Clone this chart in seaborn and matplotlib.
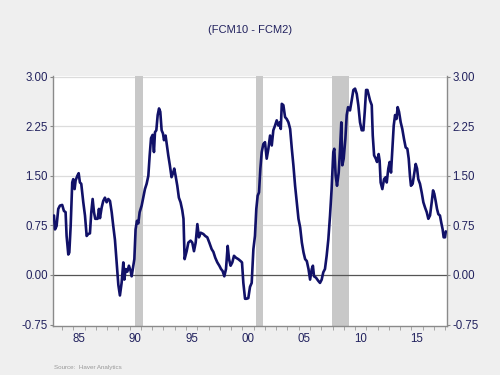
import pandas as pd
import seaborn as sns
import matplotlib.pyplot as plt

# 10y minus 2y treasury spread (decimal years)
years = [1983.29, 1983.38, 1983.52, 1983.67, 1983.82, 1984.02, 1984.17, 1984.32, 1984.41, 1984.56,
         1984.65, 1984.77, 1984.91, 1985.00, 1985.12, 1985.21, 1985.36, 1985.48, 1985.59, 1985.71,
         1985.89, 1986.04, 1986.19, 1986.33, 1986.48, 1986.60, 1986.72, 1986.84, 1986.95, 1987.16,
         1987.28, 1987.37, 1987.52, 1987.66, 1987.81, 1987.96, 1988.11, 1988.26, 1988.41, 1988.55,
         1988.70, 1988.85, 1989.00, 1989.14, 1989.29, 1989.44, 1989.53, 1989.65, 1989.80, 1989.94,
         1990.09, 1990.18, 1990.30, 1990.42, 1990.53, 1990.65, 1990.77, 1990.89, 1991.07, 1991.21,
         1991.36, 1991.51, 1991.66, 1991.78, 1991.90, 1992.04, 1992.16, 1992.25, 1992.37, 1992.49,
         1992.61, 1992.72, 1992.84, 1992.96, 1993.05, 1993.19, 1993.31, 1993.43, 1993.57, 1993.72,
         1993.87, 1993.96, 1994.08, 1994.23, 1994.37, 1994.52, 1994.67, 1994.78, 1994.88, 1995.06,
         1995.21, 1995.41, 1995.56, 1995.71, 1995.86, 1996.01, 1996.15, 1996.30, 1996.54, 1996.71,
         1996.89, 1997.07, 1997.28, 1997.43, 1997.60, 1997.78, 1997.96, 1998.11, 1998.25, 1998.40,
         1998.55, 1998.70, 1998.82, 1998.96, 1999.11, 1999.26, 1999.44, 1999.64, 1999.85, 1999.97,
         2000.09, 2000.24, 2000.38, 2000.53, 2000.68, 2000.83, 2000.98, 2001.12, 2001.24, 2001.36,
         2001.48, 2001.60, 2001.72, 2001.86, 2002.01, 2002.16, 2002.31, 2002.46, 2002.61, 2002.75,
         2002.90, 2003.05, 2003.20, 2003.32, 2003.41, 2003.50, 2003.64, 2003.79, 2003.94, 2004.09,
         2004.24, 2004.39, 2004.53, 2004.68, 2004.83, 2004.98, 2005.13, 2005.28, 2005.43, 2005.57,
         2005.72, 2005.87, 2006.01, 2006.16, 2006.26, 2006.36, 2006.53, 2006.74, 2006.89, 2007.04,
         2007.18, 2007.33, 2007.48, 2007.63, 2007.78, 2007.92, 2008.07, 2008.16, 2008.28, 2008.40,
         2008.55, 2008.67, 2008.78, 2008.87, 2008.99, 2009.14, 2009.26, 2009.38, 2009.55, 2009.70,
         2009.85, 2010.00, 2010.15, 2010.29, 2010.44, 2010.59, 2010.74, 2010.86, 2010.98, 2011.10,
         2011.22, 2011.33, 2011.48, 2011.57, 2011.69, 2011.84, 2011.95, 2012.09, 2012.18, 2012.27,
         2012.42, 2012.57, 2012.72, 2012.81, 2012.95, 2013.07, 2013.19, 2013.31, 2013.43, 2013.55,
         2013.67, 2013.78, 2013.90, 2014.05, 2014.19, 2014.34, 2014.49, 2014.64, 2014.76, 2014.87,
         2014.96, 2015.11, 2015.26, 2015.38, 2015.50, 2015.61, 2015.76, 2015.91, 2016.06, 2016.21,
         2016.36, 2016.50, 2016.65, 2016.80, 2016.92, 2017.03, 2017.15, 2017.27, 2017.39, 2017.53,
         2017.65, 2017.77, 2017.86, 2017.98, 2018.05]
spread = [0.90, 0.69, 0.74, 1.00, 1.05, 1.06, 0.97, 0.95, 0.59, 0.31,
          0.34, 0.74, 1.40, 1.45, 1.30, 1.43, 1.50, 1.54, 1.40, 1.38,
          1.10, 0.90, 0.59, 0.62, 0.63, 0.95, 1.15, 0.95, 0.85, 0.85,
          1.00, 0.86, 1.02, 1.12, 1.17, 1.10, 1.15, 1.12, 0.95, 0.74,
          0.53, 0.18, -0.15, -0.31, -0.12, 0.19, -0.07, 0.09, 0.05, 0.14,
          0.06, -0.02, 0.11, 0.24, 0.69, 0.82, 0.78, 0.95, 1.05, 1.17,
          1.30, 1.38, 1.50, 1.81, 2.07, 2.12, 1.86, 2.16, 2.19, 2.42,
          2.52, 2.47, 2.19, 2.14, 2.04, 2.11, 1.96, 1.81, 1.66, 1.48,
          1.55, 1.61, 1.50, 1.35, 1.17, 1.10, 0.98, 0.85, 0.24, 0.36,
          0.49, 0.52, 0.49, 0.36, 0.49, 0.77, 0.57, 0.64, 0.62, 0.59,
          0.57, 0.49, 0.39, 0.35, 0.26, 0.19, 0.14, 0.09, 0.06, -0.02,
          0.09, 0.44, 0.24, 0.14, 0.19, 0.29, 0.26, 0.24, 0.21, 0.19,
          -0.12, -0.36, -0.36, -0.35, -0.18, -0.12, 0.39, 0.59, 1.00, 1.20,
          1.25, 1.61, 1.86, 1.98, 2.01, 1.76, 1.91, 2.11, 1.96, 2.19,
          2.26, 2.34, 2.26, 2.31, 2.21, 2.59, 2.57, 2.39, 2.36, 2.31,
          2.21, 1.91, 1.66, 1.35, 1.10, 0.85, 0.72, 0.49, 0.34, 0.24,
          0.21, 0.09, -0.07, 0.09, 0.14, -0.02, -0.04, -0.09, -0.12, -0.07,
          0.04, 0.09, 0.29, 0.54, 0.90, 1.30, 1.86, 1.91, 1.50, 1.35,
          1.55, 1.91, 2.31, 1.66, 1.76, 2.06, 2.42, 2.54, 2.49, 2.64,
          2.80, 2.82, 2.74, 2.57, 2.31, 2.19, 2.19, 2.47, 2.80, 2.80,
          2.72, 2.64, 2.57, 2.11, 1.81, 1.76, 1.71, 1.83, 1.73, 1.40,
          1.30, 1.45, 1.48, 1.40, 1.61, 1.71, 1.55, 1.91, 2.26, 2.42,
          2.36, 2.54, 2.47, 2.31, 2.21, 2.06, 1.93, 1.91, 1.76, 1.50,
          1.35, 1.38, 1.55, 1.68, 1.61, 1.45, 1.38, 1.25, 1.10, 1.02,
          0.95, 0.85, 0.90, 1.10, 1.28, 1.23, 1.12, 1.00, 0.92, 0.90,
          0.79, 0.69, 0.57, 0.57, 0.66]

recession_start = [1990.50, 2001.17, 2007.92]
recession_end = [1991.17, 2001.83, 2009.50]

yticks = [-0.75, 0.0, 0.75, 1.5, 2.25, 3.0]
ytick_labels = ['-0.75', '0.00', '0.75', '1.50', '2.25', '3.00']
xtick_years = [1985, 1990, 1995, 2000, 2005, 2010, 2015]
xtick_labels = ['85', '90', '95', '00', '05', '10', '15']

df = pd.DataFrame({'year': years, 'spread': spread})

sns.set_theme(style='white')
plt.rcParams['font.family'] = ['Liberation Sans', 'DejaVu Sans']

navy = '#111168'
txt = '#22225e'

fig = plt.figure(figsize=(5, 3.75), dpi=100, facecolor='#efefef')
ax = fig.add_axes([0.1066, 0.1307, 0.7868, 0.6673])
ax.set_facecolor('white')

for s, e in zip(recession_start, recession_end):
    ax.axvspan(s, e, color='#c8c8c8', lw=0, zorder=1)

for y in yticks[2:]:
    ax.axhline(y, color='#dcdcdc', lw=0.9, zorder=0)
ax.axhline(0, color='#555555', lw=0.9, zorder=2)

sns.lineplot(data=df, x='year', y='spread', ax=ax, color=navy, lw=1.9, zorder=3)

ax.set_xlim(1983.23, 2018.13)
ax.set_ylim(-0.772, 3.015)

ax.set_yticks(yticks)
ax.set_yticklabels(ytick_labels)
ax.tick_params(axis='y', which='both', length=2, width=0.8, color='#888888', pad=2,
               labelsize=8.3, labelcolor=txt, left=True, right=True, labelleft=True, labelright=True)

ax.set_xticks(range(1984, 2019))
ax.set_xticklabels([])
ax.set_xticks([y + 0.5 for y in xtick_years], minor=True)
ax.set_xticklabels(xtick_labels, minor=True)
ax.tick_params(axis='x', which='major', length=3, width=0.6, color='#999999', direction='out', bottom=True)
ax.tick_params(axis='x', which='minor', length=0, pad=5, labelsize=8.3, labelcolor=txt)

for side in ['left', 'right', 'bottom']:
    ax.spines[side].set_color('#8a8a8a')
    ax.spines[side].set_linewidth(1.0)
ax.spines['top'].set_visible(False)

ax.set_xlabel('')
ax.set_ylabel('')

fig.text(0.5, 0.92, '(FCM10 - FCM2)', ha='center', va='center', fontsize=8, color=txt)
fig.text(0.108, 0.012, 'Source:  Haver Analytics', ha='left', va='bottom', fontsize=4.5, color='#999999')

fig.savefig('out.png', dpi=100, facecolor=fig.get_facecolor())
